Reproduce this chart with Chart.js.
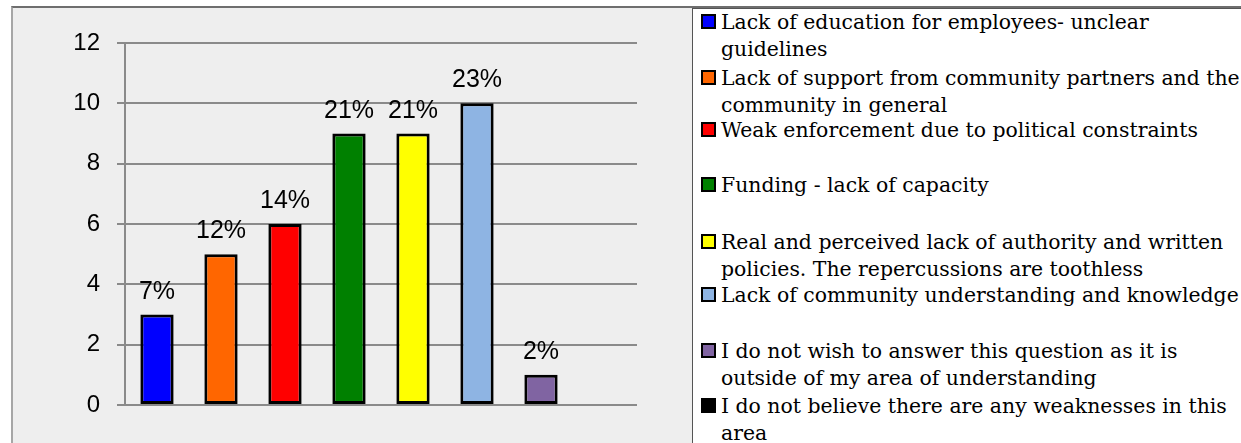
<!DOCTYPE html>
<html>
<head>
<meta charset="utf-8">
<script src="https://cdn.jsdelivr.net/npm/chart.js@4.4.0/dist/chart.umd.min.js"></script>
<style>
    html, body { margin: 0; padding: 0; background: #ffffff; overflow: hidden; }
    #frame {
        position: absolute; left: 11px; top: 6px; width: 1230px; height: 437px;
        background: #eeeeee; border-left: 2px solid #a6a6a6; border-top: 2px solid #6e6e6e;
    }
    #chart-wrap { position: absolute; left: 0; top: 0; width: 692px; height: 443px; }
    #legend {
        position: absolute; left: 692px; top: 8px; width: 560px; height: 440px;
        background: #ffffff; border-left: 1px solid #555555; border-top: 1px solid #555555;
    }
    .legend-item {
        position: absolute; left: 701px; white-space: nowrap;
        font-family: "DejaVu Serif", serif; font-size: 20.4px; line-height: 26.5px; color: #000;
    }
    .legend-item .swatch {
        position: absolute; left: 0; top: 5px; width: 15px; height: 15px;
        box-sizing: border-box; border: 2px solid #000;
    }
    .legend-item .text { margin-left: 20px; }
</style>
</head>
<body>
<div id="frame"></div>
<div id="legend"></div>
<div id="chart-wrap"><canvas id="weaknessChart"></canvas></div>
<script>
// Survey answers: count of respondents per weakness
const categories = [
    ["Lack of education for employees- unclear", "guidelines"],
    ["Lack of support from community partners and the", "community in general"],
    ["Weak enforcement due to political constraints"],
    ["Funding - lack of capacity"],
    ["Real and perceived lack of authority and written", "policies. The repercussions are toothless"],
    ["Lack of community understanding and knowledge"],
    ["I do not wish to answer this question as it is", "outside of my area of understanding"],
    ["I do not believe there are any weaknesses in this", "area"]
];
const counts = [3, 5, 6, 9, 9, 10, 1, 0];
const percentLabels = ["7%", "12%", "14%", "21%", "21%", "23%", "2%", ""];
const yTicks = [0, 2, 4, 6, 8, 10, 12];
const barColors = ["#0000ff", "#ff6600", "#ff0000", "#008000", "#ffff00", "#8eb4e3", "#8064a2", "#000000"];

// baseline of each legend entry's first line
const legendBaselines = [29, 85, 137, 192, 249, 302, 358, 413];

document.addEventListener("DOMContentLoaded", function () {
    // Build the legend beside the plot
    categories.forEach((lines, i) => {
        const item = document.createElement("div");
        item.className = "legend-item";
        item.style.top = (legendBaselines[i] - 20) + "px";
        item.innerHTML = `<span class="swatch" style="background:${barColors[i]}"></span>` +
            `<div class="text">${lines.join("<br>")}</div>`;
        document.body.appendChild(item);
    });

    // Percentage text above each bar
    const percentPlugin = {
        id: "percentLabels",
        afterDatasetsDraw(chart) {
            const ctx = chart.ctx;
            const meta = chart.getDatasetMeta(0);
            ctx.save();
            ctx.font = "25px 'Liberation Sans', Arial, sans-serif";
            ctx.fillStyle = "#000";
            ctx.textAlign = "center";
            ctx.textBaseline = "alphabetic";
            meta.data.forEach((bar, i) => {
                if (percentLabels[i]) ctx.fillText(percentLabels[i], bar.x, bar.y - 16);
            });
            ctx.restore();
        }
    };

    const ctx = document.getElementById("weaknessChart").getContext("2d");
    new Chart(ctx, {
        type: "bar",
        data: {
            labels: categories,
            datasets: [{
                data: counts,
                backgroundColor: barColors,
                borderColor: "#000000",
                borderWidth: 3,
                borderSkipped: false,
                barPercentage: 0.52,
                categoryPercentage: 1
            }]
        },
        options: {
            responsive: true,
            maintainAspectRatio: false,
            animation: false,
            layout: { padding: { left: 0, top: 43, right: 55, bottom: 38 } },
            plugins: {
                legend: { display: false },
                tooltip: { enabled: false }
            },
            scales: {
                x: { display: false },
                y: {
                    min: 0,
                    max: 12,
                    afterBuildTicks: (scale) => { scale.ticks = yTicks.map(v => ({ value: v })); },
                    afterFit: (scale) => {
                        scale.width = 125;
                        scale.paddingTop = 0;
                        scale.paddingBottom = 0;
                    },
                    grid: { color: "#8a8a8a", lineWidth: 2, tickLength: 8 },
                    border: { color: "#8a8a8a", width: 2 },
                    ticks: {
                        color: "#000",
                        padding: 17,
                        font: { family: "'Liberation Sans', Arial, sans-serif", size: 24 }
                    }
                }
            }
        },
        plugins: [percentPlugin]
    });
});
</script>
</body>
</html>
